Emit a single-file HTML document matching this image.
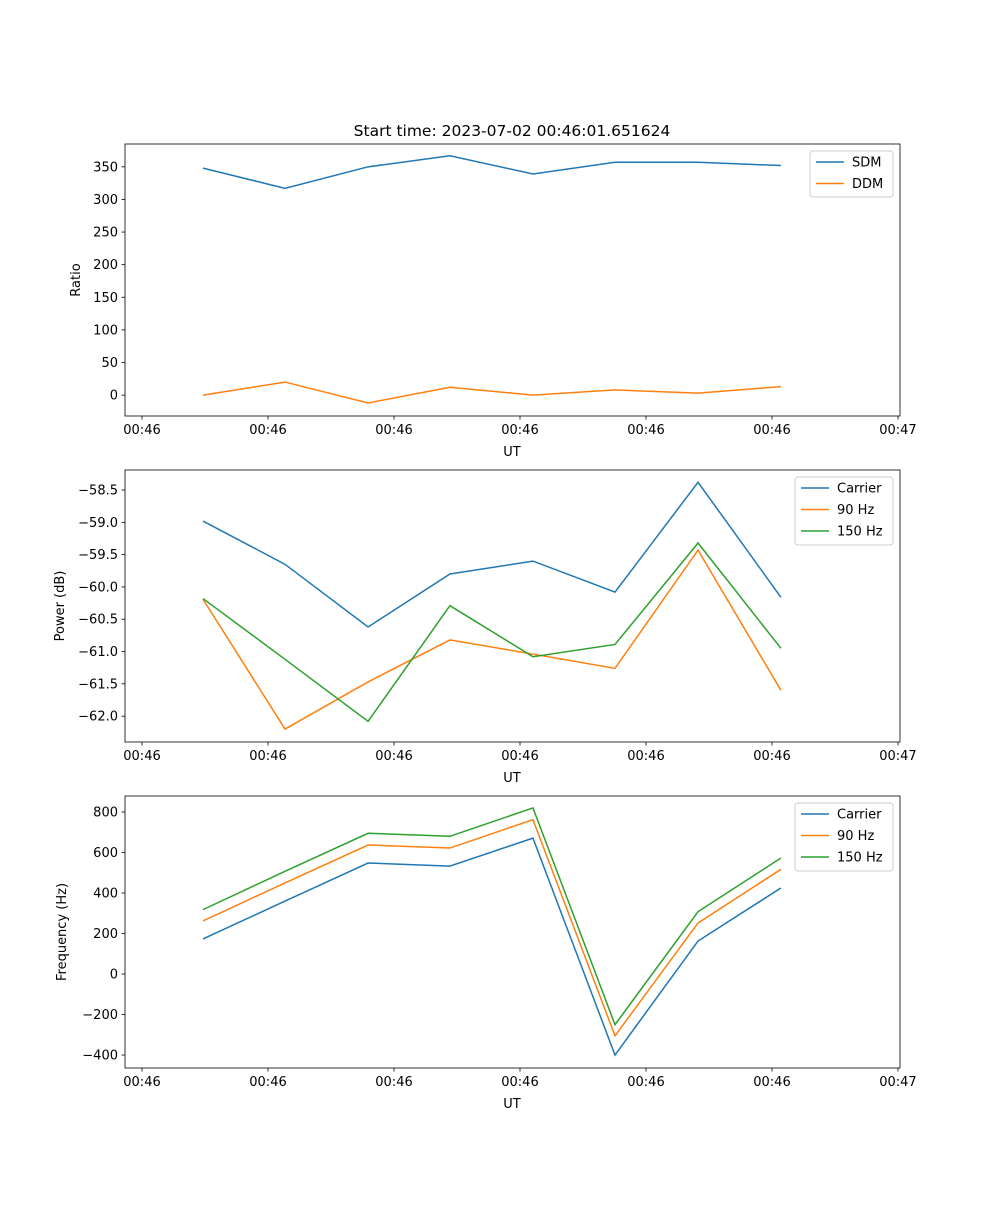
<!DOCTYPE html>
<html><head><meta charset="utf-8"><style>
body{margin:0;background:#fff;font-family:"Liberation Sans","DejaVu Sans",sans-serif}
svg text{font-family:"DejaVu Sans","Liberation Sans",sans-serif;font-size:13px;fill:#000}
</style></head><body>
<svg id="fig" width="1000" height="1200"></svg>
<script>
const xs=[0.484,1.135,1.794,2.444,3.103,3.754,4.413,5.071];
const xTicks=[0,1,2,3,4,5,6];
const xTickLabels=["00:46","00:46","00:46","00:46","00:46","00:46","00:47"];
const sdm=[348,317,350,367,339,357,357,352];
const ddm=[0,20,-12,12,0,8,3,13];
const pCarrier=[-58.98,-59.65,-60.62,-59.80,-59.60,-60.08,-58.38,-60.16];
const p90=[-60.19,-62.20,-61.47,-60.82,-61.04,-61.26,-59.43,-61.60];
const p150=[-60.18,-61.12,-62.08,-60.29,-61.08,-60.89,-59.32,-60.95];
const fCarrier=[173,360,548,533,671,-400,163,425];
const f90=[262,450,637,622,762,-305,252,517];
const f150=[318,507,695,680,820,-250,308,573];
const ticks1=[0,50,100,150,200,250,300,350];
const ticks2=[-62.0,-61.5,-61.0,-60.5,-60.0,-59.5,-59.0,-58.5];
const ticks3=[-400,-200,0,200,400,600,800];
const NS="http://www.w3.org/2000/svg",svg=document.getElementById('fig');
function el(t,a,p){const e=document.createElementNS(NS,t);for(const k in a)e.setAttribute(k,a[k]);(p||svg).appendChild(e);return e;}
const X0=125,X1=900,xmin=-0.135,xmax=6.016;
const sx=v=>X0+(v-xmin)/(xmax-xmin)*(X1-X0);
const C=['#1f77b4','#ff7f0e','#2ca02c'];
function panel(name,top,ymin,ymax,ticks,fmt,ylabel,series,labels,legW,legX){
 const bot=top+272;const sy=v=>bot-(v-ymin)/(ymax-ymin)*272;
 const g=el('g',{});
 series.forEach((s,i)=>{const l=el('polyline',{points:s.map((v,j)=>sx(xs[j])+','+sy(v)).join(' '),fill:'none',stroke:C[i],'stroke-width':1.5},g);
  });
 el('rect',{x:X0,y:top,width:X1-X0,height:272,fill:'none',stroke:'#000','stroke-width':0.8},g);
 xTicks.forEach((v,i)=>{const x=sx(v);el('line',{x1:x,x2:x,y1:bot,y2:bot+3.5,stroke:'#000','stroke-width':0.8},g);
  const t=el('text',{x:x,y:bot+18,'text-anchor':'middle'},g);t.textContent=xTickLabels[i];
  });
 ticks.forEach(v=>{const y=sy(v);el('line',{x1:X0,x2:X0-3.5,y1:y,y2:y,stroke:'#000','stroke-width':0.8},g);
  const t=el('text',{x:X0-7,y:y+4.5,'text-anchor':'end'},g);t.textContent=fmt(v);
  });
 const xl=el('text',{x:512,y:bot+40,'text-anchor':'middle'},g);xl.textContent='UT';
 
 const yx=legX;const yl=el('text',{x:0,y:0,'text-anchor':'middle',transform:`translate(${ylabel[1]},${top+136}) rotate(-90)`},g);yl.textContent=ylabel[0];
 
 const lg=el('g',{},g);
 el('rect',{x:legX,y:top+7,width:893-legX,height:labels.length*22+2,rx:3,fill:'#fff',stroke:'#ccc','stroke-width':1},lg);
 labels.forEach((lab,i)=>{const y=top+18+i*21.5;el('line',{x1:legX+6,x2:legX+34,y1:y,y2:y,stroke:C[i],'stroke-width':1.5},lg);
  const t=el('text',{x:legX+42,y:y+4.5},lg);t.textContent=lab;});
}
panel('ratio-panel',144,-32,385,ticks1,v=>String(v),['Ratio',80],[sdm,ddm],['SDM','DDM'],0,810);
panel('power-panel',470,-62.40,-58.19,ticks2,v=>'\u2212'+Math.abs(v).toFixed(1),['Power (dB)',64],[pCarrier,p90,p150],['Carrier','90 Hz','150 Hz'],0,795);
panel('frequency-panel',796,-464,879,ticks3,v=>(v<0?'\u2212':'')+Math.abs(v),['Frequency (Hz)',66],[fCarrier,f90,f150],['Carrier','90 Hz','150 Hz'],0,795);
const ti=el('text',{x:512,y:136,'text-anchor':'middle','font-size':'15.5px',style:'font-size:15.5px'});ti.textContent='Start time: 2023-07-02 00:46:01.651624';

</script>
</body></html>
